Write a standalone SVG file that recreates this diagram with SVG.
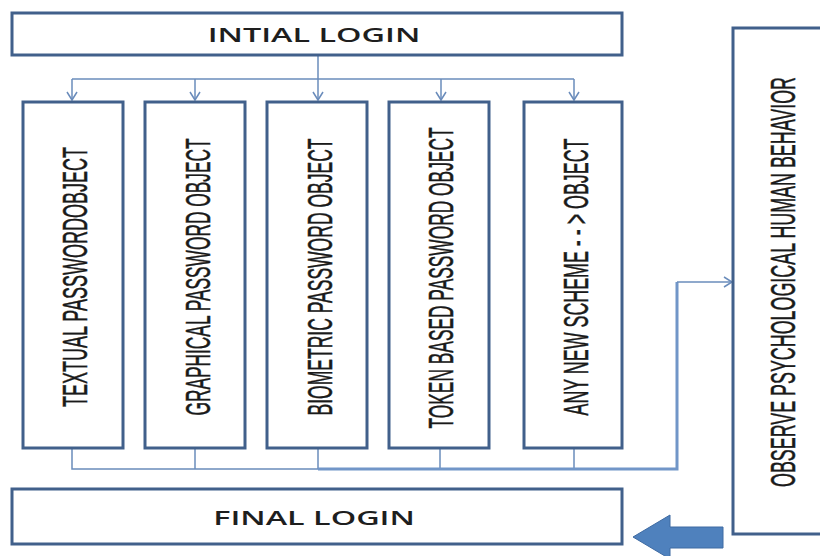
<svg xmlns="http://www.w3.org/2000/svg" width="820" height="556" viewBox="0 0 820 556">
<defs>
<style>
.box{fill:#ffffff;stroke:#41608b;stroke-width:3}
.hl{font-family:"Open Sans","Liberation Sans",sans-serif;font-size:20px;font-weight:600;fill:#1e1e1e;text-anchor:middle}
.vt{font-family:"Liberation Sans","DejaVu Sans",sans-serif;font-size:17px;fill:#1a1a1a;stroke:#1a1a1a;stroke-width:0.25;text-anchor:middle}
.ln{fill:none;stroke:#6a8cbb;stroke-width:1.5}
.lnb{fill:none;stroke:#7196c8;stroke-width:3}
</style>
<marker id="v" markerWidth="12" markerHeight="12" refX="10" refY="6" orient="auto" markerUnits="userSpaceOnUse">
<path d="M2,1 L10,6 L2,11" fill="none" stroke="#6a8cbb" stroke-width="1.5"/>
</marker>
</defs>
<rect width="820" height="556" fill="#ffffff"/>

<g id="connectors">
<path class="ln" d="M318,55 V100" marker-end="url(#v)"/>
<path class="ln" d="M72,79 H574"/>
<path class="ln" d="M72,79 V100" marker-end="url(#v)"/>
<path class="ln" d="M195,79 V100" marker-end="url(#v)"/>
<path class="ln" d="M441,79 V100" marker-end="url(#v)"/>
<path class="ln" d="M574,79 V100" marker-end="url(#v)"/>
<path class="ln" d="M72,448 V469 H318"/>
<path class="ln" d="M195,448 V469"/>
<path class="ln" d="M318,448 V469"/>
<path class="ln" d="M440,448 V469"/>
<path class="ln" d="M574,448 V469"/>
<path class="lnb" d="M318,469 H677 V282"/>
<path class="ln" d="M677,282 H732" marker-end="url(#v)"/>
</g>

<g id="initial-login">
<rect class="box" x="12" y="13" width="610" height="42"/>
<text class="hl" transform="translate(314,42) scale(1.62,1)">INTIAL LOGIN</text>
</g>

<g id="textual">
<rect class="box" x="23" y="102" width="100" height="346"/>
<text class="vt" transform="translate(87,277) rotate(-90) scale(1,2.05)" textLength="260" lengthAdjust="spacingAndGlyphs">TEXTUAL PASSWORDOBJECT</text>
</g>
<g id="graphical">
<rect class="box" x="145" y="102" width="100" height="346"/>
<text class="vt" transform="translate(210,277) rotate(-90) scale(1,2.05)" textLength="277" lengthAdjust="spacingAndGlyphs">GRAPHICAL PASSWORD OBJECT</text>
</g>
<g id="biometric">
<rect class="box" x="267" y="102" width="100" height="346"/>
<text class="vt" transform="translate(332,277) rotate(-90) scale(1,2.05)" textLength="277" lengthAdjust="spacingAndGlyphs">BIOMETRIC PASSWORD OBJECT</text>
</g>
<g id="token">
<rect class="box" x="389" y="102" width="100" height="346"/>
<text class="vt" transform="translate(453,278) rotate(-90) scale(1,2.05)" textLength="301" lengthAdjust="spacingAndGlyphs">TOKEN BASED PASSWORD OBJECT</text>
</g>
<g id="new-scheme">
<rect class="box" x="524" y="102" width="98" height="346"/>
<text class="vt" transform="translate(588,277) rotate(-90) scale(1,2.05)" textLength="277" lengthAdjust="spacingAndGlyphs">ANY NEW SCHEME - - &gt; OBJECT</text>
</g>

<g id="observe">
<rect class="box" x="733" y="28" width="100" height="506"/>
<text class="vt" transform="translate(795,282) rotate(-90) scale(1,2.05)" textLength="410" lengthAdjust="spacingAndGlyphs">OBSERVE PSYCHOLOGICAL HUMAN BEHAVIOR</text>
</g>

<g id="final-login">
<rect class="box" x="12" y="489" width="610" height="55"/>
<text class="hl" transform="translate(314,525) scale(1.62,1)">FINAL LOGIN</text>
</g>

<g id="big-arrow">
<path d="M633,537 L670,515 L670,527 L723,527 L723,548 L670,548 L670,559 Z" fill="#4f81bd" stroke="#3e6aa2" stroke-width="1"/>
</g>
</svg>
